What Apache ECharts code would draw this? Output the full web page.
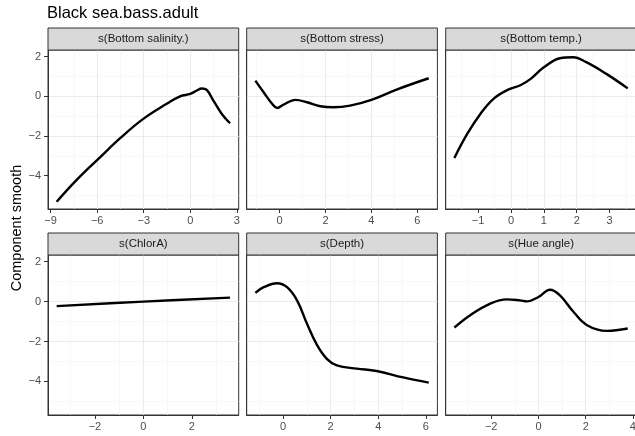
<!DOCTYPE html>
<html>
<head>
<meta charset="utf-8">
<script src="https://cdn.jsdelivr.net/npm/echarts@6/dist/echarts.min.js"></script>
<style>
  html, body { margin: 0; padding: 0; background: #fff; }
  #chart { width: 635px; height: 436px; }
</style>
</head>
<body>
<div id="chart"></div>
<script>
  // facet titles, in facet_wrap order
  var facets = ['s(Bottom salinity.)', 's(Bottom stress)', 's(Bottom temp.)',
                's(ChlorA)', 's(Depth)', 's(Hue angle)'];

  // smooth curves, [x, component smooth]
  var salinity = [[-8.61, -5.32], [-7.32, -4.22], [-5.82, -3.08], [-4.5, -2.1], [-3.03, -1.14],
                  [-1.52, -0.38], [-0.66, 0.0], [0, 0.12], [0.4, 0.28], [0.74, 0.39], [1.06, 0.32],
                  [1.49, -0.22], [2.03, -0.89], [2.56, -1.36]];
  var stress = [[-1.06, 0.79], [-0.7, 0.2], [-0.33, -0.38], [-0.11, -0.59], [0.17, -0.42],
                [0.68, -0.18], [1.19, -0.3], [1.77, -0.5], [2.35, -0.55], [3.07, -0.47],
                [4.0, -0.18], [5.1, 0.34], [6.5, 0.91]];
  var temp = [[-1.72, -3.11], [-1.33, -1.9], [-0.93, -0.89], [-0.53, -0.13], [-0.1, 0.32],
              [0.3, 0.57], [0.6, 0.88], [1.0, 1.46], [1.49, 1.92], [1.89, 1.97], [2.29, 1.72],
              [2.9, 1.13], [3.55, 0.4]];
  var chlor = [[-3.58, -0.23], [0, 0], [3.58, 0.2]];
  var depth = [[-1.16, 0.44], [-0.81, 0.72], [-0.25, 0.92], [0.17, 0.72], [0.59, 0.06],
               [1.0, -1.09], [1.42, -2.16], [1.84, -2.87], [2.26, -3.2], [3.1, -3.36],
               [3.93, -3.48], [5.05, -3.8], [6.12, -4.06]];
  var hue = [[-3.56, -1.3], [-2.89, -0.68], [-2.04, -0.1], [-1.34, 0.11], [-0.78, 0.06],
             [-0.49, 0.01], [0, 0.23], [0.49, 0.59], [0.91, 0.31], [1.48, -0.51], [2.04, -1.17],
             [2.89, -1.47], [3.78, -1.35]];

  // tick labels
  var yTicks = [-4, -2, 0, 2];
  var salinityTicks = [-9, -6, -3, 0, 3];
  var stressTicks = [0, 2, 4, 6];
  var tempTicks = [-1, 0, 1, 2, 3];
  var chlorTicks = [-2, 0, 2];
  var depthTicks = [0, 2, 4, 6];
  var hueTicks = [-2, 0, 2, 4];

  var curves = [salinity, stress, temp, chlor, depth, hue];
  var xTicks = [salinityTicks, stressTicks, tempTicks, chlorTicks, depthTicks, hueTicks];

  var FONT = 'Liberation Sans, Arial, sans-serif';

  // ggplot style 5% expansion
  function expand(lo, hi) {
    var d = (hi - lo) * 0.05;
    return [lo - d, hi + d];
  }
  function extentOf(pts, k) {
    var v = pts.map(function (p) { return p[k]; });
    return [Math.min.apply(null, v), Math.max.apply(null, v)];
  }
  var allY = [].concat.apply([], curves);
  var yr = extentOf(allY, 1);
  var yRange = expand(yr[0], yr[1]);

  function fmt(v) { return String(v).replace('-', '\u2212'); }

  // panel layout
  var colLeft = [48, 246.7, 445.7];
  var panelW = 190.7;
  var rowTop = [50, 255];
  var rowH = [159, 160];
  var stripH = 22;

  var grids = [], xAxes = [], yAxes = [], series = [], graphics = [];

  for (var i = 0; i < 6; i++) {
    var col = i % 3, row = Math.floor(i / 3);
    var xr = extentOf(curves[i], 0);
    var xRange = expand(xr[0], xr[1]);
    var ticks = xTicks[i];
    var step = ticks[1] - ticks[0];

    grids.push({
      left: colLeft[col], top: rowTop[row], width: panelW, height: rowH[row],
      show: true, backgroundColor: '#fff', borderColor: '#333', borderWidth: 1,
      containLabel: false, outerBoundsMode: 'none'
    });

    xAxes.push({
      gridIndex: i, type: 'value', min: xRange[0], max: xRange[1],
      minInterval: step, maxInterval: step,
      axisLine: { show: true, onZero: false, lineStyle: { color: '#333', width: 1 } },
      axisTick: { show: true, length: 4, customValues: ticks, lineStyle: { color: '#333', width: 1 } },
      axisLabel: { customValues: ticks, formatter: fmt, color: '#4d4d4d', fontSize: 11,
                   fontFamily: FONT, margin: 6 },
      splitLine: { show: true, showMinLine: false, showMaxLine: false,
                   lineStyle: { color: '#ebebeb', width: 1.1 } },
      minorTick: { show: false, splitNumber: 2 },
      minorSplitLine: { show: true, lineStyle: { color: '#f3f3f3', width: 0.6 } }
    });

    yAxes.push({
      gridIndex: i, type: 'value', min: yRange[0], max: yRange[1],
      minInterval: 2, maxInterval: 2,
      axisLine: { show: true, onZero: false, lineStyle: { color: '#333', width: 1 } },
      axisTick: { show: col === 0, length: 4, customValues: yTicks, lineStyle: { color: '#333', width: 1 } },
      axisLabel: { show: col === 0, customValues: yTicks, formatter: fmt, color: '#4d4d4d',
                   fontSize: 11, fontFamily: FONT, margin: 7 },
      splitLine: { show: true, showMinLine: false, showMaxLine: false,
                   lineStyle: { color: '#ebebeb', width: 1.1 } },
      minorTick: { show: false, splitNumber: 2 },
      minorSplitLine: { show: true, lineStyle: { color: '#f3f3f3', width: 0.6 } }
    });

    series.push({
      type: 'line', xAxisIndex: i, yAxisIndex: i, data: curves[i],
      smooth: 0.4, showSymbol: false, silent: true,
      lineStyle: { color: '#000', width: 2.4 }
    });

    // facet strip
    graphics.push({
      type: 'rect', z: 10,
      shape: { x: colLeft[col], y: rowTop[row] - stripH, width: panelW, height: stripH },
      style: { fill: '#d9d9d9', stroke: '#333', lineWidth: 1 }
    });
    graphics.push({
      type: 'text', z: 11,
      x: colLeft[col] + panelW / 2, y: rowTop[row] - stripH / 2,
      style: { text: facets[i], fill: '#1a1a1a', font: '11.5px ' + FONT,
               align: 'center', verticalAlign: 'middle',
               textAlign: 'center', textVerticalAlign: 'middle' }
    });
  }

  // y axis title
  graphics.push({
    type: 'text', x: 17, y: 228, rotation: Math.PI / 2,
    style: { text: 'Component smooth', fill: '#000', font: '14.5px ' + FONT,
             align: 'center', verticalAlign: 'middle',
             textAlign: 'center', textVerticalAlign: 'middle' }
  });

  var chart = echarts.init(document.getElementById('chart'), null, { renderer: 'canvas' });
  chart.setOption({
    animation: false,
    backgroundColor: '#fff',
    title: {
      text: 'Black sea.bass.adult', left: 47, top: 5, padding: 0,
      textStyle: { fontSize: 16.5, fontWeight: 'normal', color: '#000', fontFamily: FONT }
    },
    grid: grids,
    xAxis: xAxes,
    yAxis: yAxes,
    series: series,
    graphic: graphics
  });
</script>
</body>
</html>
